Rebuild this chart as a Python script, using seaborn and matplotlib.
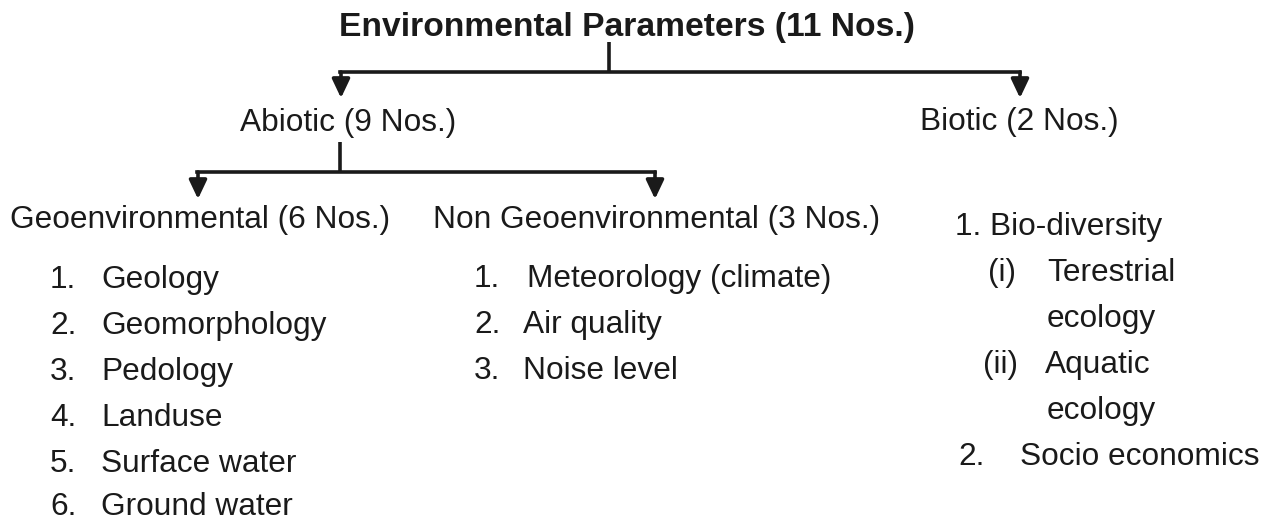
import matplotlib
matplotlib.use("Agg")
import matplotlib.pyplot as plt
import seaborn as sns

# text content of the tree
title = "Environmental Parameters (11 Nos.)"
level1 = ["Abiotic (9 Nos.)", "Biotic (2 Nos.)"]
level2 = ["Geoenvironmental (6 Nos.)", "Non Geoenvironmental (3 Nos.)"]
geo_items = ["Geology", "Geomorphology", "Pedology", "Landuse",
             "Surface water", "Ground water"]
nongeo_items = ["Meteorology (climate)", "Air quality", "Noise level"]
biotic_lines = [("1. Bio-diversity", ""), ("(i)", "Terestrial"), ("", "ecology"),
                ("(ii)", "Aquatic"), ("", "ecology"), ("2.", "Socio economics")]

sns.set_theme(style="white")
plt.rcParams["font.family"] = ["Liberation Sans", "DejaVu Sans"]

W, H = 1268, 521
fig = plt.figure(figsize=(W / 100, H / 100), dpi=100)
ax = fig.add_axes([0, 0, 1, 1])
ax.set_xlim(0, W)
ax.set_ylim(H, 0)
ax.axis("off")

fs = 22.8
col = "#1a1a1a"
lw = 2.6


def txt(x, y, s, **kw):
    kw.setdefault("fontsize", fs)
    ax.text(x, y, s, va="baseline", ha="left", color=col, **kw)


def arrow(x, y0, y1):
    ax.annotate("", xy=(x, y1), xytext=(x, y0),
                arrowprops=dict(arrowstyle="-|>,head_length=0.95,head_width=0.45",
                                color=col, lw=lw, shrinkA=0, shrinkB=0,
                                mutation_scale=12))


# title
ax.text(627, 36, title, ha="center", va="baseline", fontsize=24.2,
        fontweight="bold", color=col)

# first split
ax.plot([609, 609], [42, 72], color=col, lw=lw, solid_capstyle="butt")
ax.plot([340, 1020], [72, 72], color=col, lw=lw, solid_capstyle="projecting")
arrow(341, 72, 98)
arrow(1020, 72, 98)

txt(240, 131, level1[0])
txt(920, 130, level1[1])

# second split
ax.plot([340, 340], [142, 172], color=col, lw=lw, solid_capstyle="butt")
ax.plot([197, 655], [172, 172], color=col, lw=lw, solid_capstyle="projecting")
arrow(198, 172, 199)
arrow(655, 172, 199)

txt(10, 228, level2[0])
txt(433, 228, level2[1])

# geoenvironmental list
geo_y = [288, 334, 380, 426, 472, 515]
for i, (item, y) in enumerate(zip(geo_items, geo_y)):
    txt(50, y, f"{i + 1}.")
    txt(101, y, item)

# non geoenvironmental list
nongeo_y = [287, 333, 379]
for i, (item, y) in enumerate(zip(nongeo_items, nongeo_y)):
    txt(474, y, f"{i + 1}.")
    txt(527 if i == 0 else 523, y, item)

# biotic list
bio_y = [235, 281, 327, 373, 419, 465]
bio_x = [(955, None), (988, 1047), (None, 1047), (983, 1045), (None, 1047), (958, 1020)]
for (a, b), (xa, xb), y in zip(biotic_lines, bio_x, bio_y):
    if a:
        txt(xa, y, a)
    if b:
        txt(xb, y, b)

fig.savefig("out.png", dpi=100, facecolor="white")
